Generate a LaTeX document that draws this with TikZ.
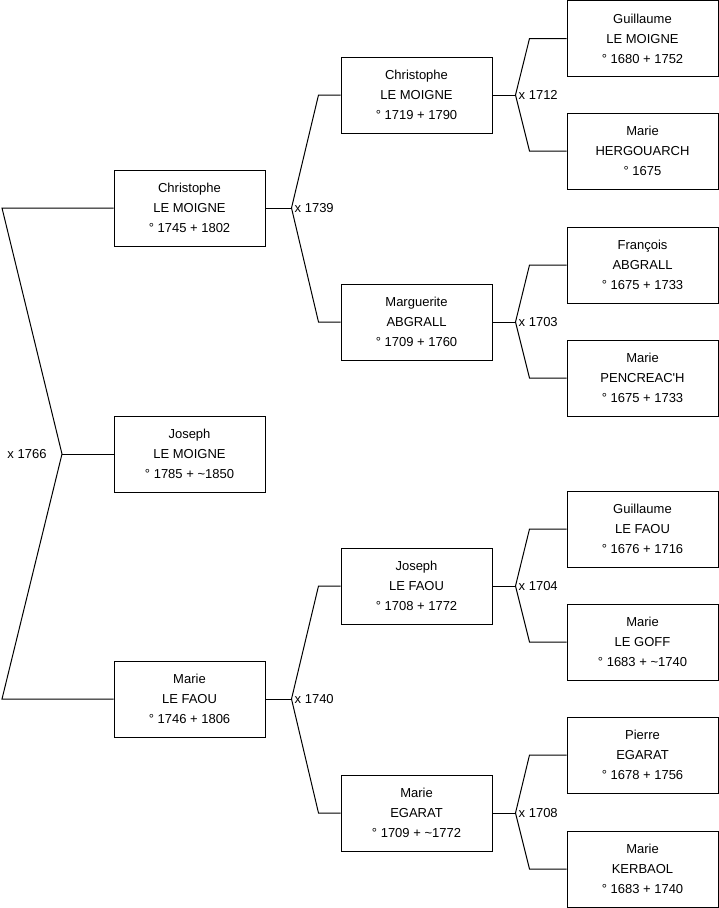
\documentclass[tikz,border=0pt]{standalone}
\usepackage{fontspec}
\setmainfont{Liberation Sans}
\usetikzlibrary{positioning}
\tikzset{
  pers/.style={draw, line width=1pt, minimum width=151pt, minimum height=76pt,
    inner sep=0pt, align=center, font=\fontsize{13}{20}\selectfont},
  lnk/.style={line width=1pt},
  mar/.style={font=\fontsize{13}{15}\selectfont, inner sep=0pt}
}
\begin{document}
\begin{tikzpicture}[x=1pt,y=-1pt]
\useasboundingbox (0,0) rectangle (719,908);
% enfant et parents
\node[pers] (c1) at (189.5,208) {Christophe\\LE MOIGNE\\° 1745 + 1802};
\node[pers] (j1) at (189.5,454) {Joseph\\LE MOIGNE\\° 1785 + \textasciitilde1850};
\node[pers] (m1) at (189.5,699) {Marie\\LE FAOU\\° 1746 + 1806};
% grands-parents
\node[pers] (c2) at (416.5,95) {Christophe\\LE MOIGNE\\° 1719 + 1790};
\node[pers] (g2) at (416.5,322) {Marguerite\\ABGRALL\\° 1709 + 1760};
\node[pers] (j2) at (416.5,586) {Joseph\\LE FAOU\\° 1708 + 1772};
\node[pers] (e2) at (416.5,813) {Marie\\EGARAT\\° 1709 + \textasciitilde1772};
% arriere-grands-parents
\node[pers] (c3) at (642.5,38.5) {Guillaume\\LE MOIGNE\\° 1680 + 1752};
\node[pers] (h3) at (642.5,151) {Marie\\HERGOUARCH\\° 1675};
\node[pers] (a3) at (642.5,265) {François\\ABGRALL\\° 1675 + 1733};
\node[pers] (p3) at (642.5,378) {Marie\\PENCREAC\textquotesingle H\\° 1675 + 1733};
\node[pers] (f3) at (642.5,529) {Guillaume\\LE FAOU\\° 1676 + 1716};
\node[pers] (l3) at (642.5,642) {Marie\\LE GOFF\\° 1683 + \textasciitilde1740};
\node[pers] (e3) at (642.5,755) {Pierre\\EGARAT\\° 1678 + 1756};
\node[pers] (k3) at (642.5,869) {Marie\\KERBAOL\\° 1683 + 1740};
% mariage des parents
\coordinate (v0) at (62,454);
\coordinate (t0) at (2,208);
\coordinate (b0) at (2,699);
\draw[lnk] (c1.west) -- (t0) -- (v0) -- (b0) -- (m1.west);
\draw[lnk] (v0) -- (j1.west);
\node[mar] (x0) at (27,454) {x 1766};
% autres mariages
\foreach \p/\u/\d/\yr/\a/\b in {c1/c2/g2/1739/26/22, m1/j2/e2/1740/26/22,
    c2/c3/h3/1712/23/37, g2/a3/p3/1703/23/37, j2/f3/l3/1704/23/37, e2/e3/k3/1708/23/37}{
  \coordinate (v) at ([xshift=\a pt]\p.east);
  \draw[lnk] (\p.east) -- (v);
  \draw[lnk] (\u.west) -- ++(-\b,0) -- (v) -- ([xshift=-\b pt]\d.west) -- (\d.west);
  \node[mar, anchor=west] (x\p) at ([xshift=3pt]v) {x \yr};
}
\end{tikzpicture}
\end{document}
